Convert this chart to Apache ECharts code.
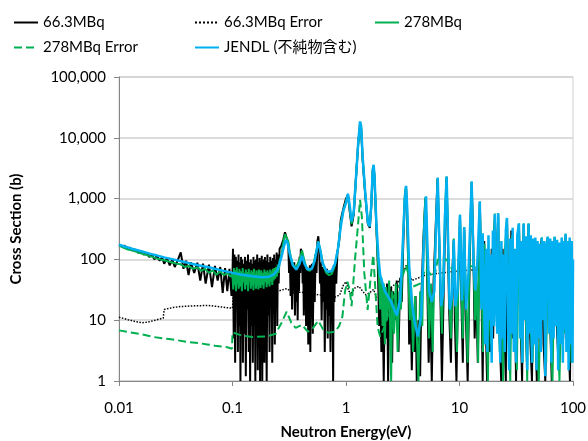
<!DOCTYPE html>
<html>
<head>
<meta charset="utf-8">
<script src="https://cdn.jsdelivr.net/npm/echarts@6/dist/echarts.min.js"></script>
<style>
html,body{margin:0;padding:0;background:#fff;}
#main{width:588px;height:441px;}
</style>
</head>
<body>
<div id="main"></div>
<script>
// 凡例名
var names = ['66.3MBq', '66.3MBq Error', '278MBq', '278MBq Error', 'JENDL (不純物含む)'];
var xTicks = [0.01, 0.1, 1, 10, 100];
var yTicks = [1, 10, 100, 1000, 10000, 100000];

// 66.3MBq [eV, b]
var mbq66 = [
  [0.0100,175],[0.0106,165],[0.0112,168],[0.0118,150],[0.0125,155],[0.0132,140],[0.0140,145],[0.0148,128],
  [0.0156,135],[0.0165,120],[0.0175,128],[0.0185,110],[0.0195,120],[0.0205,100],[0.0215,115],[0.0228,95],
  [0.024,108],[0.025,85],[0.0265,105],[0.028,80],[0.0295,100],[0.031,75],[0.033,98],[0.035,130],[0.037,70],
  [0.039,95],[0.041,55],[0.043,90],[0.046,60],[0.049,88],[0.052,45],[0.055,85],[0.058,40],[0.062,82],
  [0.066,35],[0.070,78],[0.074,45],[0.078,75],[0.082,28],[0.086,72],[0.090,30],[0.094,70],[0.098,25],[0.1,60],
  [0.101,150],[0.1025,5],[0.104,120],[0.1055,2],[0.107,110],[0.1085,20],[0.110,95],[0.1115,3],[0.113,120],
  [0.1145,8],[0.116,90],[0.1175,1],[0.119,110],[0.1205,12],[0.122,100],[0.1235,2],[0.125,85],[0.127,6],
  [0.129,110],[0.131,1.2],[0.133,95],[0.135,15],[0.137,120],[0.139,3],[0.141,90],[0.143,1],[0.145,100],
  [0.147,8],[0.149,85],[0.151,2],[0.153,110],[0.155,20],[0.157,95],[0.159,1],[0.161,100],[0.163,5],
  [0.165,120],[0.167,1.5],[0.169,90],[0.171,10],[0.173,105],[0.175,1],[0.177,95],[0.179,4],[0.181,115],
  [0.183,1],[0.185,90],[0.187,25],[0.189,100],[0.191,2],[0.193,110],[0.195,8],[0.197,95],[0.2,1],
  [0.203,120],[0.206,12],[0.209,90],[0.212,3],[0.215,110],[0.218,30],[0.221,95],[0.224,2],[0.227,105],
  [0.23,15],[0.233,120],[0.236,4],[0.239,100],[0.242,30],[0.245,130],[0.248,8],[0.251,120],[0.255,40],
  [0.26,150],[0.27,170],[0.28,210],[0.29,280],[0.30,300],[0.31,180],[0.315,60],[0.32,120],[0.325,25],
  [0.33,90],[0.335,15],[0.34,80],[0.345,30],[0.35,90],[0.355,12],[0.36,75],[0.365,20],[0.37,80],[0.375,10],
  [0.38,90],[0.385,30],[0.39,110],[0.395,60],[0.40,150],[0.41,130],[0.415,40],[0.42,90],[0.425,12],
  [0.43,80],[0.435,20],[0.44,70],[0.445,8],[0.45,75],[0.455,15],[0.46,65],[0.465,4],[0.47,70],[0.475,12],
  [0.48,80],[0.485,3],[0.49,70],[0.495,25],[0.50,85],[0.51,6],[0.52,90],[0.53,20],[0.54,120],[0.55,60],
  [0.56,200],[0.57,240],[0.58,160],[0.59,40],[0.60,90],[0.61,10],[0.62,75],[0.63,20],[0.64,70],[0.65,3],
  [0.66,65],[0.67,15],[0.68,70],[0.69,5],[0.70,60],[0.71,12],[0.72,65],[0.73,3],[0.74,60],[0.75,15],
  [0.76,70],[0.77,1],[0.78,80],[0.79,20],[0.80,90],[0.82,40],[0.84,130],[0.87,200],
  [0.90,450],[0.95,700],[1.0,1000],[1.04,1150],[1.08,600],[1.12,350],[1.17,550],[1.22,2000],[1.28,8000],
  [1.33,17000],[1.36,14000],[1.4,4500],[1.48,1100],[1.56,380],[1.62,330],[1.67,750],[1.72,2800],[1.75,3400],
  [1.78,2300],[1.85,350],[1.9,100],[1.93,30],[1.96,8],
  [2.0,40],[2.05,3],[2.1,25],[2.15,1],[2.2,30],[2.25,5],[2.3,40],[2.35,1],[2.4,20],[2.45,8],[2.5,35],
  [2.55,2],[2.6,30],[2.7,10],[2.8,45],[2.9,3],[3.0,50],[3.1,20],[3.2,200],[3.3,1000],[3.38,1500],[3.45,600],
  [3.55,60],[3.6,4],[3.7,20],[3.8,1.5],[3.9,15],[4.0,3],[4.1,25],[4.2,1],[4.35,10],[4.5,1.2],[4.6,20],
  [4.8,200],[5.0,1000],[5.1,500],[5.2,40],[5.35,2],[5.5,25],[5.7,1],[5.9,40],[6.1,200],[6.4,2100],[6.6,300],
  [6.8,20],[7.0,1],[7.2,15],[7.5,500],[7.7,2200],[7.9,200],[8.1,15],[8.4,2],[8.7,80],[8.9,200],[9.1,10],
  [9.4,1],[9.7,30],[10.1,500],[10.4,20],[10.7,2],[11.0,300],[11.4,10],[11.8,1],[12.3,100],[12.8,1800],
  [13.2,200],[13.6,5],[14.0,40],[14.5,2],[15.1,850],[15.6,40],[16.0,1],[16.5,200],[17.0,10],[17.5,1],
  [18.0,60],[18.6,3],[19.2,150],[19.8,5],[20.5,550],[21.2,20],[21.9,560],[22.6,5],[23.3,1],[24.0,150],
  [24.8,8],[25.6,1],[26.2,450],[27.0,20],[27.8,2],[28.6,300],[29.5,5],[30.5,100],[31.5,1],[32.5,200],
  [33.4,380],[34.5,10],[35.6,1],[36.8,380],[38,20],[39.3,2],[40.6,380],[42,5],[43.5,1],[45,150],[46.5,10],
  [48,1],[50,100],[53,220],[55,4],[57,1],[60,230],[62.5,15],[65,1],[69,230],[72,8],[75,1.5],[78,150],
  [82,5],[86,240],[90,10],[94,1],[97,160],[100,50]
];

// 66.3MBq Error
var mbq66Err = [
  [0.01,11.2],[0.012,10.2],[0.014,9.5],[0.016,9.1],[0.018,9.3],[0.02,9.8],[0.023,10.5],[0.0245,10.8],
  [0.025,15.0],[0.027,15.5],[0.03,16.2],[0.035,16.8],[0.04,17.0],[0.05,17.3],[0.06,17.5],[0.07,17.0],
  [0.08,16.5],[0.09,16.0],[0.1,15.8],[0.102,30],[0.15,32],[0.2,31],[0.25,30],[0.3,33],[0.35,28],[0.4,29],
  [0.5,27],[0.6,26],[0.7,25],[0.8,24],[0.88,26],[0.95,38],[1.0,43],[1.06,30],[1.12,28],[1.2,34],[1.3,36],
  [1.4,30],[1.5,26],[1.6,28],[1.75,32],[1.85,24],[2.0,22],[2.5,35],[3.0,45],[3.4,80],[3.8,45],[5,55],
  [7,60],[10,65],[15,68],[20,67],[30,68],[50,66],[70,65],[100,60]
];

// 278MBq
var mbq278 = [
  [0.0100,168],[0.0110,155],[0.0120,145],[0.0135,138],[0.0150,128],[0.0170,120],[0.0190,112],[0.0210,105],
  [0.0230,100],[0.0260,95],[0.0290,90],[0.0320,85],[0.0350,83],[0.0380,75],[0.0410,78],[0.0450,70],
  [0.0490,74],[0.0530,65],[0.0570,70],[0.0620,60],[0.0670,66],[0.0720,56],[0.0780,63],[0.0840,55],
  [0.0900,60],[0.0960,52],[0.1000,58],[0.1015,32],[0.103,72],[0.1045,38],[0.106,66],[0.1075,30],[0.109,74],
  [0.1105,40],[0.112,62],[0.1135,33],[0.115,70],[0.117,36],[0.119,64],[0.121,30],[0.123,72],[0.125,42],
  [0.127,60],[0.129,32],[0.131,68],[0.133,38],[0.135,62],[0.137,30],[0.139,70],[0.141,44],[0.143,60],
  [0.145,33],[0.147,66],[0.149,37],[0.151,62],[0.153,31],[0.155,70],[0.157,42],[0.159,58],[0.161,33],
  [0.163,66],[0.165,38],[0.167,60],[0.169,32],[0.171,68],[0.173,40],[0.175,62],[0.177,34],[0.179,66],
  [0.182,38],[0.185,60],[0.188,33],[0.191,68],[0.194,42],[0.197,62],[0.2,35],[0.203,66],[0.206,40],
  [0.209,60],[0.212,36],[0.215,68],[0.218,44],[0.221,64],[0.224,38],[0.227,70],[0.23,45],[0.234,72],
  [0.238,48],[0.242,75],[0.246,52],[0.25,82],[0.255,60],[0.26,95],[0.27,120],[0.28,190],
  [0.29,260],[0.30,280],[0.31,200],[0.32,130],[0.335,90],[0.35,75],[0.37,80],[0.39,100],[0.41,140],
  [0.43,95],[0.45,70],[0.48,65],[0.51,75],[0.54,120],[0.57,200],[0.60,130],[0.63,80],[0.67,60],[0.71,55],
  [0.75,58],[0.8,80],[0.85,150],[0.9,400],[0.95,650],[1.0,900],[1.04,1150],[1.08,650],[1.12,380],
  [1.17,580],[1.22,1900],[1.28,7800],[1.33,17500],[1.36,14500],[1.4,4800],[1.48,1150],[1.56,390],
  [1.62,350],[1.67,780],[1.72,2900],[1.75,3500],[1.78,2400],[1.85,380],[1.9,110],[1.95,50],
  [2.0,15],[2.05,50],[2.1,8],[2.15,40],[2.2,4],[2.25,35],[2.3,10],[2.4,45],[2.5,1],[2.55,30],[2.65,6],
  [2.75,40],[2.85,3],[2.95,30],[3.05,15],[3.2,300],[3.3,1200],[3.38,1600],[3.45,700],[3.55,50],[3.65,10],
  [3.75,35],[3.9,3],[4.05,25],[4.2,6],[4.35,1],[4.5,30],[4.7,8],[4.85,300],[5.0,1050],[5.1,400],[5.25,30],
  [5.4,5],[5.6,40],[5.8,3],[6.0,60],[6.2,300],[6.43,2200],[6.6,250],[6.8,30],[7.0,6],[7.2,50],[7.45,600],
  [7.7,2300],[7.9,250],[8.1,30],[8.4,5],[8.7,60],[8.9,220],[9.2,20],[9.5,3],[9.8,60],[10.1,540],[10.4,30],
  [10.7,5],[11.0,330],[11.4,20],[11.8,2],[12.3,150],[12.8,1900],[13.2,150],[13.7,10],[14.1,60],[14.6,2],
  [15.1,880],[15.6,50],[16.1,3],[16.6,180],[17.2,12],[17.8,1],[18.4,80],[19,4],[19.6,120],[20.5,570],
  [21.2,15],[21.9,570],[22.6,3],[23.4,90],[24.2,1],[25,120],[26.2,470],[27,15],[28,1],[29,250],[30,6],
  [31,120],[32,1.5],[33.4,390],[34.6,8],[35.8,2],[36.8,390],[38,30],[39.5,1],[40.6,390],[42,10],[44,2],
  [46,120],[48,5],[50,1],[53,230],[56,10],[58,2],[60,235],[63,8],[66,1],[69,235],[72,20],[76,1],[80,120],
  [84,6],[86,265],[90,4],[94,60],[97,2],[100,40]
];

// 278MBq Error
var mbq278Err = [
  [0.01,6.8],[0.012,6.4],[0.015,6.0],[0.02,5.3],[0.03,4.8],[0.04,4.4],[0.05,4.2],[0.06,4.0],[0.07,3.8],
  [0.08,3.7],[0.09,3.6],[0.099,3.4],[0.1,6.3],[0.12,5.6],[0.15,5.3],[0.2,5.4],[0.24,6.0],[0.27,9],
  [0.3,13.8],[0.33,9],[0.36,7.5],[0.41,8.4],[0.46,6.5],[0.5,7.0],[0.57,9.8],[0.63,7],[0.7,6.2],[0.8,6.5],
  [0.87,8],[0.93,11.5],[0.98,30],[1.03,43],[1.08,31],[1.12,17],[1.2,98],[1.28,400],[1.33,950],[1.38,500],
  [1.45,60],[1.55,14.8],[1.65,50],[1.74,118],[1.8,40],[1.9,7.8],[2.0,5.4],[2.2,8],[2.5,20],[3,40],
  [3.38,80],[3.8,35],[4.5,40],[5,70],[6,50],[6.43,100],[7.7,100],[9,60],[12,80],[15,70],[20,80],[30,70],
  [50,75],[70,70],[100,70]
];

// JENDL
var jendl = [
  [0.0100,174],[0.0130,150],[0.0160,135],[0.0200,120],[0.0250,108],[0.0300,100],[0.0400,88],[0.0500,80],
  [0.0600,75],[0.0700,70],[0.0800,66],[0.1000,60],[0.1200,56],[0.1500,53],[0.1800,51],[0.2100,52],
  [0.2300,56],[0.2500,68],[0.2700,110],[0.2850,170],[0.2950,210],[0.3050,190],[0.3200,120],[0.3400,80],
  [0.3650,68],[0.3900,85],[0.4100,115],[0.4300,85],[0.4600,68],[0.5000,70],[0.5300,95],[0.5550,150],
  [0.5700,195],[0.5900,150],[0.6200,90],[0.6600,68],[0.7000,62],[0.7500,65],[0.8000,85],[0.8500,150],
  [0.9000,350],[0.9500,650],[0.9800,750],[1.0000,850],[1.0400,1200],[1.0800,750],[1.1200,420],[1.1700,600],
  [1.2200,2000],[1.2800,8000],[1.3300,18600],[1.3600,15500],[1.4000,5000],[1.4800,1200],[1.5600,400],
  [1.6200,350],[1.6700,800],[1.7200,3000],[1.7500,3600],[1.7800,2500],[1.8500,400],[1.9300,110],
  [2.0,55],[2.2,30],[2.5,20],[2.8,12],[3.0,22],[3.15,150],[3.3,1000],[3.38,1620],[3.45,800],[3.6,80],
  [3.8,20],[4.0,10],[4.3,5.4],[4.6,12],[4.85,200],[5.07,1090],[5.2,200],[5.4,30],[5.7,20],[6.0,30],
  [6.2,300],[6.43,2200],[6.6,300],[6.9,17],[7.2,30],[7.45,500],[7.7,2300],[7.9,300],[8.2,15],[8.6,25],
  [8.9,210],[9.2,17],[9.6,30],[10.1,540],[10.5,21],[11.0,340],[11.4,15],[12.0,60],[12.8,1900],[13.3,80],
  [13.8,31],[14.4,100],[15.1,900],[15.6,15],[16.0,270],[16.4,28],[16.8,4],[17.2,150],[17.6,3],[18.0,250],
  [18.4,10],[18.8,120],[19.2,2],[19.7,300],[20.1,8],[20.5,560],[21.0,20],[21.5,6],[21.9,580],[22.4,12],
  [22.9,2],[23.4,200],[23.9,5],[24.4,120],[25.0,3],[25.6,300],[26.2,480],[26.8,8],[27.4,1.5],[28.0,220],
  [28.7,6],[29.4,330],[30.1,3],[30.8,150],[31.5,2],[32.3,250],[33.4,390],[34.2,5],[35.0,200],[35.8,2],
  [36.8,390],[37.7,10],[38.6,240],[39.5,1.5],[40.6,390],[41.5,6],[42.5,250],[43.5,2],[44.5,220],[45.5,4],
  [46.6,230],[47.7,1.5],[48.8,200],[50,5],[51,180],[52,3],[53,226],[54.3,10],[55.6,200],[57,1.2],
  [58.5,180],[60,235],[61.5,6],[63,220],[64.5,2],[66,200],[67.5,5],[69,235],[70.7,8],[72.4,210],[74,1.5],
  [75.8,190],[77.6,4],[79.5,230],[81.4,2],[83.3,200],[85.3,7],[86,265],[87.5,3],[89.5,200],[91.5,1.5],
  [93.5,230],[95.5,4],[97.5,200],[99,2],[100,100]
];

var fontFamily = "Lato, 'Noto Sans CJK JP', sans-serif";
var myChart = echarts.init(document.getElementById('main'));

function lineSeries(name, data, color, width, type) {
    return {
        name: name,
        type: 'line',
        data: data,
        symbol: 'none',
        showSymbol: false,
        sampling: 'none',
        lineStyle: { color: color, width: width, type: type },
        itemStyle: { color: color }
    };
}

var legendBase = {
    orient: 'vertical', itemGap: 10,
    itemWidth: 24, itemHeight: 10,
    // 凡例は線のみ（マーカーなし）
    itemStyle: { color: 'rgba(0,0,0,0)', borderColor: 'rgba(0,0,0,0)', borderWidth: 0 },
    textStyle: { fontSize: 15, color: '#000', fontFamily: fontFamily }
};

var option = {
    animation: false,
    backgroundColor: '#fff',
    textStyle: { fontFamily: fontFamily },
    legend: [
        Object.assign({}, legendBase, { data: [names[0], names[3]], left: 8, top: 10 }),
        Object.assign({}, legendBase, { data: [names[1], names[4]], left: 189, top: 10 }),
        Object.assign({}, legendBase, { data: [names[2]], left: 369, top: 10 })
    ],
    grid: {
        left: 119, right: 15, top: 77, bottom: 60,
        outerBoundsMode: 'none', containLabel: false,
        show: true, borderColor: '#d0d0d0', borderWidth: 1
    },
    xAxis: {
        type: 'log', logBase: 10,
        min: xTicks[0], max: xTicks[xTicks.length - 1],
        name: 'Neutron Energy(eV)', nameLocation: 'middle', nameGap: 44,
        nameTextStyle: { fontSize: 15, fontWeight: 'bold', color: '#000', fontFamily: fontFamily },
        axisLine: { lineStyle: { color: '#868686' } },
        axisTick: { show: true, length: 5, lineStyle: { color: '#868686' } },
        splitLine: { show: false },
        axisLabel: {
            fontSize: 15, color: '#000', margin: 20,
            formatter: function (v) { return String(+Number(v).toPrecision(2)); }
        }
    },
    yAxis: {
        type: 'log', logBase: 10,
        min: yTicks[0], max: yTicks[yTicks.length - 1],
        name: 'Cross Section (b)', nameLocation: 'middle', nameGap: 95, nameRotate: 90,
        nameTextStyle: { fontSize: 15, fontWeight: 'bold', color: '#000', fontFamily: fontFamily },
        axisLine: { show: true, lineStyle: { color: '#868686' } },
        axisTick: { show: true, length: 5, lineStyle: { color: '#868686' } },
        splitLine: { show: true, lineStyle: { color: '#d0d0d0', width: 1.5 } },
        axisLabel: {
            fontSize: 15, color: '#000', margin: 13,
            formatter: function (v) { return Math.round(v).toLocaleString('en-US'); }
        }
    },
    series: [
        lineSeries(names[0], mbq66, '#000000', 2, 'solid'),
        lineSeries(names[1], mbq66Err, '#000000', 1.5, 'dotted'),
        lineSeries(names[2], mbq278, '#00b050', 2, 'solid'),
        lineSeries(names[3], mbq278Err, '#00b050', 2, 'dashed'),
        lineSeries(names[4], jendl, '#00b0f0', 2.5, 'solid')
    ]
};
myChart.setOption(option);
</script>
</body>
</html>
